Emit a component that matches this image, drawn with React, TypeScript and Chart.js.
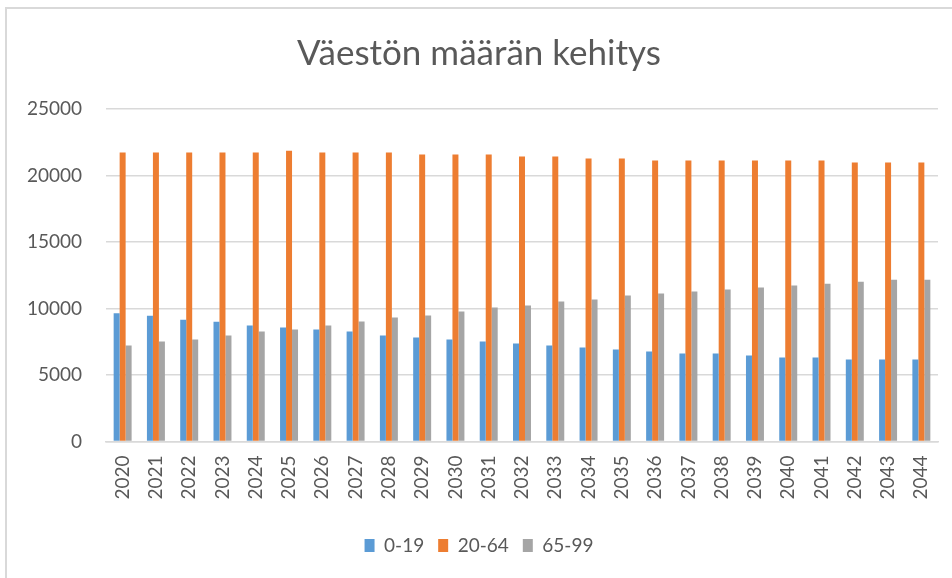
import React, { useEffect, useRef } from "react";
import { Chart, registerables } from "chart.js";

Chart.register(...registerables);

const years = [
  "2020", "2021", "2022", "2023", "2024", "2025", "2026", "2027", "2028", "2029",
  "2030", "2031", "2032", "2033", "2034", "2035", "2036", "2037", "2038", "2039",
  "2040", "2041", "2042", "2043", "2044",
];

const age0to19 = [
  9650, 9450, 9150, 9000, 8720, 8570, 8420, 8270, 7970, 7820,
  7670, 7520, 7370, 7220, 7070, 6920, 6770, 6620, 6620, 6470,
  6320, 6320, 6170, 6170, 6170,
];

const age20to64 = [
  21720, 21720, 21720, 21720, 21720, 21870, 21720, 21720, 21720, 21570,
  21570, 21570, 21420, 21420, 21270, 21270, 21120, 21120, 21120, 21120,
  21120, 21120, 20970, 20970, 20970,
];

const age65to99 = [
  7220, 7520, 7670, 7970, 8270, 8420, 8720, 9020, 9320, 9470,
  9770, 10070, 10220, 10520, 10670, 10970, 11120, 11270, 11420, 11570,
  11720, 11870, 12020, 12170, 12170,
];

const seriesLabels = ["0-19", "20-64", "65-99"];
const seriesColors = ["#5B9BD5", "#ED7D31", "#A5A5A5"];
const titleText = "Väestön määrän kehitys";

const FONT = "Lato, 'Open Sans', sans-serif";
const TEXT = "#595959";

export default function App() {
  const ref = useRef<HTMLCanvasElement | null>(null);

  useEffect(() => {
    if (!ref.current) return;
    const chart = new Chart(ref.current, {
      type: "bar",
      data: {
        labels: years,
        datasets: [age0to19, age20to64, age65to99].map((d, i) => ({
          label: seriesLabels[i],
          data: d,
          backgroundColor: seriesColors[i],
          borderWidth: 0,
          categoryPercentage: 0.54,
          barPercentage: 1,
        })),
      },
      options: {
        animation: false,
        responsive: false,
        maintainAspectRatio: false,
        layout: { padding: { left: 20, right: 14, top: 0, bottom: 13 } },
        plugins: {
          title: {
            display: true,
            text: titleText,
            color: TEXT,
            font: { family: FONT, size: 35, weight: "normal" },
            padding: { top: 33, bottom: 34 },
          },
          legend: {
            position: "bottom",
            labels: {
              color: TEXT,
              font: { family: FONT, size: 19 },
              boxWidth: 10,
              boxHeight: 13,
              padding: 14,
            },
          },
          tooltip: { enabled: false },
        },
        scales: {
          x: {
            grid: { display: false },
            border: { display: true, color: "#D9D9D9", width: 1.5 },
            ticks: {
              color: TEXT,
              font: { family: FONT, size: 19 },
              minRotation: 90,
              maxRotation: 90,
              autoSkip: false,
              padding: 6,
            },
            afterFit: (s: any) => {
              s.height = 80.5;
            },
          },
          y: {
            min: 0,
            max: 25000,
            grid: { color: "#D9D9D9", lineWidth: 1.5, drawTicks: false },
            border: { display: false },
            ticks: {
              stepSize: 5000,
              color: TEXT,
              font: { family: FONT, size: 19 },
              padding: 24,
              callback: (v: any) => String(v),
            },
            afterFit: (s: any) => {
              s.width = 86;
            },
          },
        },
      },
    });
    return () => chart.destroy();
  }, []);

  return (
    <div style={{ position: "fixed", left: 0, top: 0, width: 952, height: 578, background: "#fff" }}>
      <div
        style={{
          position: "absolute",
          left: 5,
          top: 7,
          width: 960,
          height: 590,
          borderLeft: "2px solid #D9D9D9",
          borderTop: "2px solid #D9D9D9",
        }}
      />
      <canvas ref={ref} width={952} height={578} style={{ position: "absolute", left: 0, top: 0 }} />
    </div>
  );
}
